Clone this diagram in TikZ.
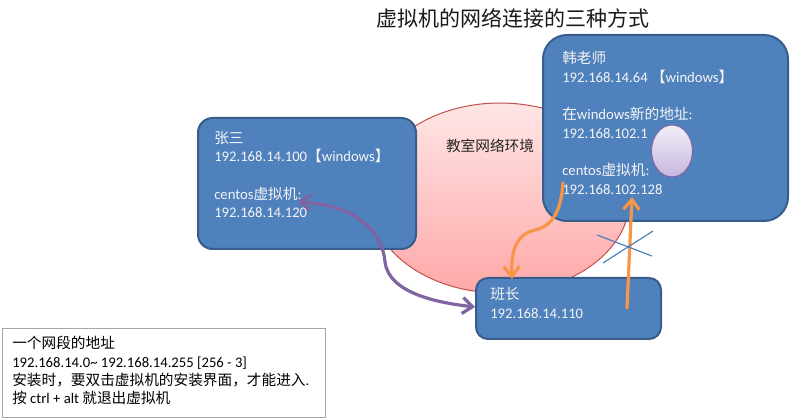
\documentclass[tikz,border=0pt]{standalone}
\usepackage{fontspec}
\setmainfont{Carlito}
\newfontfamily\cjkfont{Noto Sans CJK SC}
\newcommand{\zhs}[1]{{\cjkfont #1}}
\usetikzlibrary{shapes.geometric,arrows.meta}
\definecolor{boxblue}{HTML}{4F81BD}
\definecolor{boxedge}{HTML}{385D8A}
\definecolor{orng}{HTML}{F79646}
\definecolor{purp}{HTML}{8064A2}
\definecolor{txtw}{HTML}{F4F4F4}
\definecolor{ellred}{HTML}{C0504D}
\definecolor{pinktop}{HTML}{FFE6E6}
\definecolor{pinkbot}{HTML}{FFA8A8}
\definecolor{lavtop}{HTML}{F2EEF8}
\definecolor{lavbot}{HTML}{C6B6E0}
\definecolor{notegray}{HTML}{A6A6A6}
\begin{document}
\begin{tikzpicture}[x=0.75pt,y=-0.75pt,
  hostbox/.style={draw=boxedge, line width=1.5pt, fill=boxblue, rounded corners=#1, inner sep=0pt, anchor=north west},
  hostbox/.default=9pt,
  hosttext/.style={anchor=north west, inner sep=0pt, align=left, text=txtw, font=\fontsize{11}{14}\selectfont},
  link/.style={line width=2.4pt, line cap=round},
  tipstyle/.style={-{Straight Barb[length=7.5pt,width=12pt]}},
]
\useasboundingbox (0,0) rectangle (790,420);

% network ellipse
\node[ellipse, minimum width=195pt, minimum height=142.5pt, draw=ellred, line width=0.75pt,
      top color=pinktop, bottom color=pinkbot, inner sep=0pt] (net) at (500,198) {};
\node[font=\fontsize{11}{13}\selectfont\cjkfont, text=black!85] (netlabel) at (490,146) {教室网络环境};

% left host
\node[hostbox=11pt, minimum width=163.5pt, minimum height=98.25pt] (zs) at (197,117) {};
\node[hosttext] (zstext) at (214,131) {\zhs{张三}\\192.168.14.100\zhs{【}windows\zhs{】}\\ \\centos\zhs{虚拟机}:\\192.168.14.120};

% right host
\node[hostbox=18pt, minimum width=183.75pt, minimum height=139.5pt] (han) at (542,34) {};
\node[hosttext] (hantext) at (562,51) {\zhs{韩老师}\\192.168.14.64 \zhs{【}windows\zhs{】}\\ \\\zhs{在}windows\zhs{新的地址}:\\192.168.102.1\\ \\centos\zhs{虚拟机}:\\192.168.102.128};
\node[ellipse, minimum width=30.75pt, minimum height=39pt, draw=purp, line width=0.75pt,
      top color=lavtop, bottom color=lavbot, inner sep=0pt] (bubble) at (672,151) {};

% monitor host
\node[hostbox=9pt, minimum width=138.75pt, minimum height=45.75pt] (bz) at (475,277) {};
\node[hosttext] (bztext) at (490,287) {\zhs{班长}\\192.168.14.110};

% connectors
\coordinate (pa) at (298,202);
\coordinate (pb) at (475,307);
\draw[link, purp, {Straight Barb[length=7.5pt,width=12pt]}-{Straight Barb[length=7.5pt,width=12pt]}]
  (pa) .. controls (360,205) and (383,235) .. (385,262) .. controls (389,294) and (440,303) .. (pb);

\coordinate (oa) at (563,183);
\coordinate (ob) at (512,279);
\draw[link, orng, tipstyle]
  (oa) .. controls (561,212) and (552,226) .. (535,230) .. controls (515,235) and (511,252) .. (ob);

\coordinate (oc) at (627,308);
\coordinate (od) at (632,197);
\draw[link, orng, tipstyle] (oc) -- (od);

% cross
\coordinate (x1) at (597,235);
\coordinate (x2) at (652,256);
\coordinate (x3) at (603,263);
\coordinate (x4) at (653,231);
\draw[boxblue, line width=0.9pt] (x1) -- (x2);
\draw[boxblue, line width=0.9pt] (x3) -- (x4);

% note
\node[draw=notegray, line width=0.75pt, fill=white, anchor=north west, inner sep=0pt,
      minimum width=242.25pt, minimum height=66.75pt] (note) at (2,328) {};
\node[anchor=north west, inner sep=0pt, align=left, text=black, font=\fontsize{11}{13.75}\selectfont] (notetext) at (12,336)
  {\zhs{一个网段的地址}\\192.168.14.0\textasciitilde{} 192.168.14.255 [256 - 3]\\\zhs{安装时，要双击虚拟机的安装界面，才能进入}.\\\zhs{按} ctrl + alt \zhs{就退出虚拟机}};

% title
\node[font=\fontsize{15.75}{18}\selectfont\cjkfont, text=black!90] (title) at (513,18) {虚拟机的网络连接的三种方式};
\end{tikzpicture}
\end{document}
